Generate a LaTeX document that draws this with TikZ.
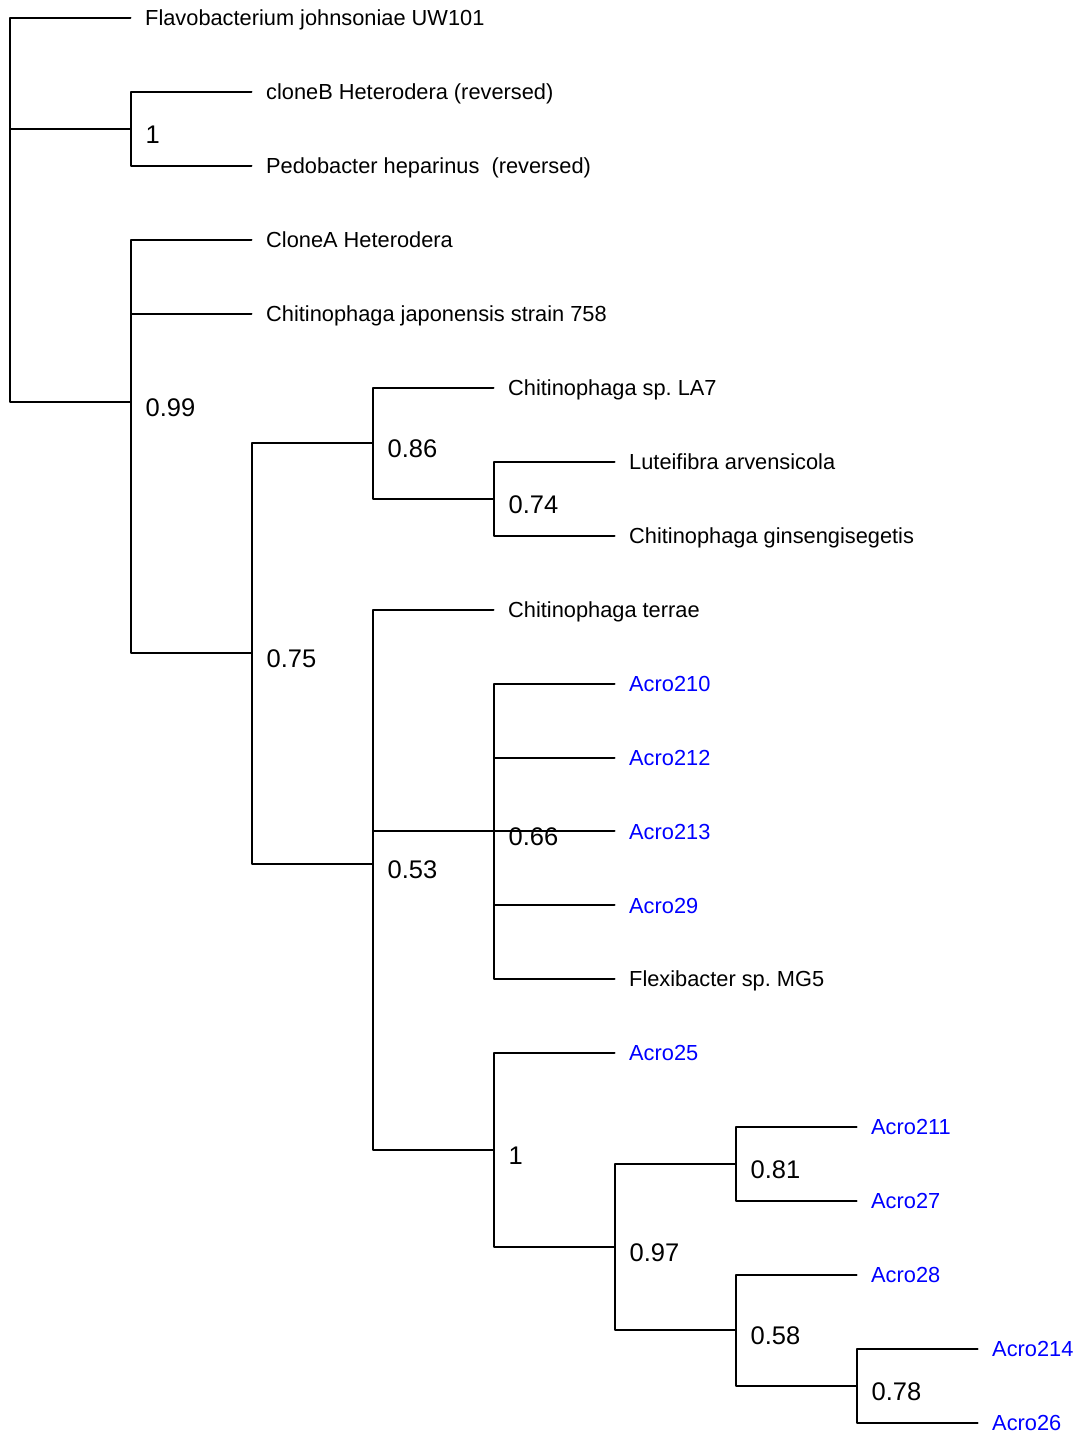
\documentclass[tikz,border=0pt]{standalone}
\usepackage{fontspec}
\setmainfont{Liberation Sans}
\definecolor{acroblue}{RGB}{0,0,255}
\tikzset{
  branch/.style={line width=2pt, line join=round, line cap=round},
  leaflab/.style={anchor=base west, inner sep=0pt, xshift=14.5pt, yshift=-7.6pt, font=\fontsize{21.8}{24}\selectfont},
  acrolab/.style={leaflab, text=acroblue},
  supportlab/.style={anchor=base west, inner sep=0pt, xshift=15pt, yshift=-14.5pt, font=\fontsize{25.5}{28}\selectfont},
}
\frenchspacing
\begin{document}
\begin{tikzpicture}[x=1pt,y=-1pt]
\useasboundingbox (0,0) rectangle (1075,1433);
% internal nodes
\coordinate (root) at (9.5,183.0);
\coordinate (c1) at (130.5,129.0);
\coordinate (c2) at (130.5,402.2);
\coordinate (c3) at (251.5,653.3);
\coordinate (c4) at (372.5,443.0);
\coordinate (c6) at (493.5,498.5);
\coordinate (c5) at (372.5,863.6);
\coordinate (c7) at (493.5,831.2);
\coordinate (c8) at (493.5,1150.1);
\coordinate (c9) at (614.5,1247.2);
\coordinate (c10) at (735.5,1163.9);
\coordinate (c11) at (735.5,1330.3);
\coordinate (c12) at (856.5,1385.8);
% leaf tips
\coordinate (t0) at (130.5,18.0);
\coordinate (t1) at (251.5,91.95);
\coordinate (t2) at (251.5,165.9);
\coordinate (t3) at (251.5,239.85);
\coordinate (t4) at (251.5,313.8);
\coordinate (t5) at (493.5,387.75);
\coordinate (t6) at (614.5,461.7);
\coordinate (t7) at (614.5,535.65);
\coordinate (t8) at (493.5,609.6);
\coordinate (t9) at (614.5,683.55);
\coordinate (t10) at (614.5,757.5);
\coordinate (t11) at (614.5,831.45);
\coordinate (t12) at (614.5,905.4);
\coordinate (t13) at (614.5,979.35);
\coordinate (t14) at (614.5,1053.3);
\coordinate (t15) at (856.5,1127.25);
\coordinate (t16) at (856.5,1201.2);
\coordinate (t17) at (856.5,1275.15);
\coordinate (t18) at (977.5,1349.1);
\coordinate (t19) at (977.5,1423.05);
% leaf labels
\node[leaflab] (l0) at (t0) {Flavobacterium johnsoniae UW101};
\node[leaflab] (l1) at (t1) {cloneB Heterodera (reversed)};
\node[leaflab] (l2) at (t2) {Pedobacter heparinus~ (reversed)};
\node[leaflab] (l3) at (t3) {CloneA Heterodera};
\node[leaflab] (l4) at (t4) {Chitinophaga japonensis strain 758};
\node[leaflab] (l5) at (t5) {Chitinophaga sp. LA7};
\node[leaflab] (l6) at (t6) {Luteifibra arvensicola};
\node[leaflab] (l7) at (t7) {Chitinophaga ginsengisegetis};
\node[leaflab] (l8) at (t8) {Chitinophaga terrae};
\node[acrolab] (l9) at (t9) {Acro210};
\node[acrolab] (l10) at (t10) {Acro212};
\node[acrolab] (l11) at (t11) {Acro213};
\node[acrolab] (l12) at (t12) {Acro29};
\node[leaflab] (l13) at (t13) {Flexibacter sp. MG5};
\node[acrolab] (l14) at (t14) {Acro25};
\node[acrolab] (l15) at (t15) {Acro211};
\node[acrolab] (l16) at (t16) {Acro27};
\node[acrolab] (l17) at (t17) {Acro28};
\node[acrolab] (l18) at (t18) {Acro214};
\node[acrolab] (l19) at (t19) {Acro26};
% branches
\draw[branch] (root) |- (t0);
\draw[branch] (root) |- (c1);
\draw[branch] (root) |- (c2);
\draw[branch] (c1) |- (t1);
\draw[branch] (c1) |- (t2);
\draw[branch] (c2) |- (t3);
\draw[branch] (c2) |- (t4);
\draw[branch] (c2) |- (c3);
\draw[branch] (c3) |- (c4);
\draw[branch] (c3) |- (c5);
\draw[branch] (c4) |- (t5);
\draw[branch] (c4) |- (c6);
\draw[branch] (c6) |- (t6);
\draw[branch] (c6) |- (t7);
\draw[branch] (c5) |- (t8);
\draw[branch] (c5) |- (c7);
\draw[branch] (c5) |- (c8);
\draw[branch] (c7) |- (t9);
\draw[branch] (c7) |- (t10);
\draw[branch] (c7) |- (t11);
\draw[branch] (c7) |- (t12);
\draw[branch] (c7) |- (t13);
\draw[branch] (c8) |- (t14);
\draw[branch] (c8) |- (c9);
\draw[branch] (c9) |- (c10);
\draw[branch] (c9) |- (c11);
\draw[branch] (c10) |- (t15);
\draw[branch] (c10) |- (t16);
\draw[branch] (c11) |- (t17);
\draw[branch] (c11) |- (c12);
\draw[branch] (c12) |- (t18);
\draw[branch] (c12) |- (t19);
% support values
\node[supportlab] (s1) at (c1) {1};
\node[supportlab] (s2) at (c2) {0.99};
\node[supportlab] (s3) at (c3) {0.75};
\node[supportlab] (s4) at (c4) {0.86};
\node[supportlab] (s6) at (c6) {0.74};
\node[supportlab] (s5) at (c5) {0.53};
\node[supportlab] (s7) at (c7) {0.66};
\node[supportlab] (s8) at (c8) {1};
\node[supportlab] (s9) at (c9) {0.97};
\node[supportlab] (s10) at (c10) {0.81};
\node[supportlab] (s11) at (c11) {0.58};
\node[supportlab] (s12) at (c12) {0.78};
\end{tikzpicture}
\end{document}
